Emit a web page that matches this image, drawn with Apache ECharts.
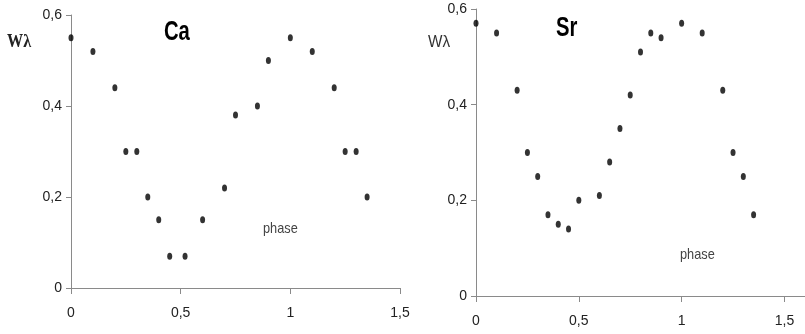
<!DOCTYPE html>
<html>
<head>
<meta charset="utf-8">
<script src="https://cdn.jsdelivr.net/npm/echarts@6/dist/echarts.min.js"></script>
<style>html,body{margin:0;padding:0;background:#fff}#c{width:805px;height:334px}</style>
</head>
<body>
<div id="c"></div>
<script>
// Ca
const caPhase = [0,0.1,0.2,0.25,0.3,0.35,0.4,0.45,0.52,0.6,0.7,0.75,0.85,0.9,1,1.1,1.2,1.25,1.3,1.35];
const caW     = [0.55,0.52,0.44,0.30,0.30,0.20,0.15,0.07,0.07,0.15,0.22,0.38,0.40,0.50,0.55,0.52,0.44,0.30,0.30,0.20];
// Sr
const srPhase = [0,0.1,0.2,0.25,0.3,0.35,0.4,0.45,0.5,0.6,0.65,0.7,0.75,0.8,0.85,0.9,1,1.1,1.2,1.25,1.3,1.35];
const srW     = [0.57,0.55,0.43,0.30,0.25,0.17,0.15,0.14,0.20,0.21,0.28,0.35,0.42,0.51,0.55,0.54,0.57,0.55,0.43,0.30,0.25,0.17];
// tick labels
const xTicks = [0,0.5,1,1.5];
const yTicks = [0,0.2,0.4,0.6];

const sans = "'Liberation Sans Narrow','Liberation Sans',Arial,sans-serif";
const fmt = v => String(v).replace('.', ',');
const axisLineStyle = {color:'#8a8a8a', width:1};

function xAxis(gridIndex, max){
  return {
    type:'value', gridIndex, min:0, max, interval:0.5,
    axisLine:{show:true, lineStyle:axisLineStyle},
    axisTick:{show:true, length:6, lineStyle:axisLineStyle, customValues:xTicks},
    axisLabel:{color:'#222', fontFamily:sans, fontSize:14, margin:18, formatter:fmt, customValues:xTicks},
    splitLine:{show:false}
  };
}
function yAxis(gridIndex){
  return {
    type:'value', gridIndex, min:0, max:0.6, interval:0.2,
    axisLine:{show:true, lineStyle:axisLineStyle},
    axisTick:{show:true, length:5, lineStyle:axisLineStyle, customValues:yTicks},
    axisLabel:{color:'#222', fontFamily:sans, fontSize:14, margin:9, formatter:fmt, customValues:yTicks},
    splitLine:{show:false}
  };
}

const chart = echarts.init(document.getElementById('c'), null, {renderer:'canvas'});
chart.setOption({
  animation:false,
  grid:[
    {left:71, top:15, width:329, height:273},
    {left:476, top:9, width:335, height:287}
  ],
  xAxis:[xAxis(0,1.5), xAxis(1,1.6)],
  yAxis:[yAxis(0), yAxis(1)],
  series:[
    {type:'scatter', xAxisIndex:0, yAxisIndex:0, symbol:'circle', symbolSize:[5,7],
     itemStyle:{color:'#000'}, data:caPhase.map((p,i)=>[p,caW[i]])},
    {type:'scatter', xAxisIndex:1, yAxisIndex:1, symbol:'circle', symbolSize:[5,7],
     itemStyle:{color:'#000'}, data:srPhase.map((p,i)=>[p,srW[i]])}
  ],
  graphic:[
    {type:'text', x:7, y:33, scaleX:0.85, style:{text:'Wλ', font:"bold 19px 'Liberation Serif',serif", fill:'#222'}},
    {type:'text', x:428, y:34, scaleX:0.9, style:{text:'Wλ', font:"17px 'Liberation Sans',sans-serif", fill:'#333'}},
    {type:'text', x:164, y:19, scaleX:0.75, style:{text:'Ca', font:"bold 27px 'Liberation Sans',sans-serif", fill:'#000'}},
    {type:'text', x:556, y:15, scaleX:0.75, style:{text:'Sr', font:"bold 27px 'Liberation Sans',sans-serif", fill:'#000'}},
    {type:'text', x:263, y:221, scaleX:0.85, style:{text:'phase', font:"15px 'Liberation Sans',sans-serif", fill:'#444'}},
    {type:'text', x:680, y:247, scaleX:0.85, style:{text:'phase', font:"15px 'Liberation Sans',sans-serif", fill:'#444'}}
  ]
});
</script>
</body>
</html>
